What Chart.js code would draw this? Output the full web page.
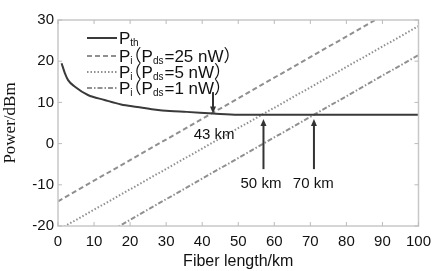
<!DOCTYPE html>
<html><head><meta charset="utf-8">
<script src="https://cdn.jsdelivr.net/npm/chart.js@4/dist/chart.umd.min.js"></script>
<style>html,body{margin:0;padding:0;background:#fff}#wrap{width:438px;height:271px}</style>
</head><body><div id="wrap"><canvas id="c" width="438" height="271"></canvas></div>
<script>
// ---- data ----
const thX = [1, 1.9, 2.8, 4.7, 8.3, 12.9, 17.5, 22, 26.6, 31, 35.7, 43, 50, 100];
const thY = [19.5, 17.1, 15.4, 13.8, 11.8, 10.6, 9.5, 8.9, 8.3, 7.9, 7.7, 7.3, 7.0, 7.0];
const p25X = [0, 88];
const p25Y = [-14, 30];
const p5X = [0, 100];
const p5Y = [-21, 28.5];
const p1X = [0, 100];
const p1Y = [-28.5, 21.5];
const xTicks = [0, 10, 20, 30, 40, 50, 60, 70, 80, 90, 100];
const yTicks = [-20, -10, 0, 10, 20, 30];
const arrowX = [43, 57, 71];
const arrowFrom = [12.5, -6.2, -6.2];
const arrowTo = [7.3, 6.0, 6.0];
const arrowLabels = ['43 km', '50 km', '70 km'];
const arrowLabelX = [43.3, 56.3, 70.8];
const arrowLabelY = [2.2, -9.8, -9.8];
const legendMain = ['P', 'P', 'P', 'P'];
const legendSub = ['th', 'i', 'i', 'i'];
const legendPds = ['', '25 nW', '5 nW', '1 nW'];

const pts = (xs, ys) => xs.map((x, i) => ({x, y: ys[i]}));
const styles = [
  {color: '#3a3a3a', dash: [], width: 2},
  {color: '#909090', dash: [5, 3], width: 2},
  {color: '#909090', dash: [1.5, 2], width: 2},
  {color: '#909090', dash: [5, 2, 1.5, 2], width: 2}
];
const series = [pts(thX, thY), pts(p25X, p25Y), pts(p5X, p5Y), pts(p1X, p1Y)];

const boxPlugin = {
  id: 'box',
  afterDraw(chart) {
    const {ctx, chartArea: a, scales: {x, y}} = chart;
    ctx.save();
    ctx.strokeStyle = '#c8c8c8';
    ctx.lineWidth = 1.5;
    ctx.strokeRect(a.left, a.top, a.right - a.left, a.bottom - a.top);
    ctx.lineWidth = 1;
    ctx.strokeStyle = '#bbbbbb';
    xTicks.forEach(v => {
      const px = x.getPixelForValue(v);
      ctx.beginPath(); ctx.moveTo(px, a.bottom); ctx.lineTo(px, a.bottom - 4); ctx.stroke();
      ctx.beginPath(); ctx.moveTo(px, a.top); ctx.lineTo(px, a.top + 4); ctx.stroke();
    });
    yTicks.forEach(v => {
      const py = y.getPixelForValue(v);
      ctx.beginPath(); ctx.moveTo(a.left, py); ctx.lineTo(a.left + 4, py); ctx.stroke();
      ctx.beginPath(); ctx.moveTo(a.right, py); ctx.lineTo(a.right - 4, py); ctx.stroke();
    });
    // arrows
    ctx.strokeStyle = '#333';
    ctx.fillStyle = '#333';
    ctx.lineWidth = 2;
    arrowX.forEach((v, i) => {
      const px = x.getPixelForValue(v);
      const y0 = y.getPixelForValue(arrowFrom[i]);
      const y1 = y.getPixelForValue(arrowTo[i]);
      const dir = y1 > y0 ? 1 : -1;
      ctx.beginPath(); ctx.moveTo(px, y0); ctx.lineTo(px, y1 - dir * 5); ctx.stroke();
      ctx.beginPath();
      ctx.moveTo(px, y1);
      ctx.lineTo(px - 3, y1 - dir * 7);
      ctx.lineTo(px + 3, y1 - dir * 7);
      ctx.closePath(); ctx.fill();
    });
    ctx.fillStyle = '#111';
    ctx.font = '15px "Liberation Sans", Arial, sans-serif';
    ctx.textAlign = 'center';
    ctx.textBaseline = 'middle';
    arrowLabels.forEach((t, i) => {
      ctx.fillText(t, x.getPixelForValue(arrowLabelX[i]), y.getPixelForValue(arrowLabelY[i]));
    });
    // legend
    const lx0 = 87, lx1 = 117, tx = 119;
    const rows = [38, 56, 72, 88];
    const big = '17px "Liberation Sans", Arial, sans-serif';
    const cjk = '17px "Noto Sans CJK SC", sans-serif';
    const small = '10px "Liberation Sans", Arial, sans-serif';
    ctx.textAlign = 'left';
    ctx.textBaseline = 'alphabetic';
    rows.forEach((ry, i) => {
      const s = styles[i];
      ctx.strokeStyle = s.color; ctx.lineWidth = s.width; ctx.setLineDash(s.dash);
      ctx.beginPath(); ctx.moveTo(lx0, ry); ctx.lineTo(lx1, ry); ctx.stroke();
      ctx.setLineDash([]);
      let cx = tx;
      const base = ry + 6;
      ctx.fillStyle = '#111';
      ctx.font = big; ctx.fillText(legendMain[i], cx, base); cx += ctx.measureText(legendMain[i]).width;
      ctx.font = small; ctx.fillText(legendSub[i], cx, base + 2); cx += ctx.measureText(legendSub[i]).width;
      if (legendPds[i]) {
        ctx.font = cjk;
        ctx.fillText('（', cx - 8, base); cx += 9;
        ctx.font = big;
        ctx.fillText('P', cx, base); cx += ctx.measureText('P').width;
        ctx.font = small; ctx.fillText('ds', cx, base + 2); cx += ctx.measureText('ds').width + 1;
        ctx.font = big;
        const rest = '=' + legendPds[i];
        ctx.fillText(rest, cx, base); cx += ctx.measureText(rest).width;
        ctx.font = cjk;
        ctx.fillText('）', cx, base);
      }
    });
    ctx.restore();
  }
};

new Chart(document.getElementById('c'), {
  type: 'line',
  data: {
    datasets: series.map((d, i) => ({
      data: d,
      borderColor: styles[i].color,
      borderDash: styles[i].dash,
      borderWidth: styles[i].width,
      pointRadius: 0,
      tension: i === 0 ? 0.4 : 0,
      cubicInterpolationMode: i === 0 ? 'monotone' : 'default',
      fill: false
    }))
  },
  options: {
    responsive: false,
    animation: false,
    devicePixelRatio: 1,
    layout: {padding: {top: 20, right: 16, left: 0, bottom: 0}},
    plugins: {legend: {display: false}, tooltip: {enabled: false}},
    scales: {
      x: {
        type: 'linear', min: 0, max: 100,
        afterBuildTicks: s => { s.ticks = xTicks.map(v => ({value: v})); },
        afterFit: s => { s.height = 45; },
        grid: {display: false, drawTicks: false},
        border: {display: false},
        ticks: {padding: 7, color: '#111', font: {family: '"Liberation Sans", Arial, sans-serif', size: 15}},
        title: {display: true, text: 'Fiber length/km', color: '#111', padding: {top: 0, bottom: 0},
          font: {family: '"Liberation Sans", Arial, sans-serif', size: 16}}
      },
      y: {
        type: 'linear', min: -20, max: 30,
        afterBuildTicks: s => { s.ticks = yTicks.map(v => ({value: v})); },
        afterFit: s => { s.width = 58; },
        grid: {display: false, drawTicks: false},
        border: {display: false},
        ticks: {padding: 4, color: '#111', font: {family: '"Liberation Sans", Arial, sans-serif', size: 15}},
        title: {display: true, text: 'Power/dBm', color: '#111', padding: {top: 0, bottom: 0},
          font: {family: '"Liberation Serif", "Times New Roman", serif', size: 17}}
      }
    }
  },
  plugins: [boxPlugin]
});
</script></body></html>
